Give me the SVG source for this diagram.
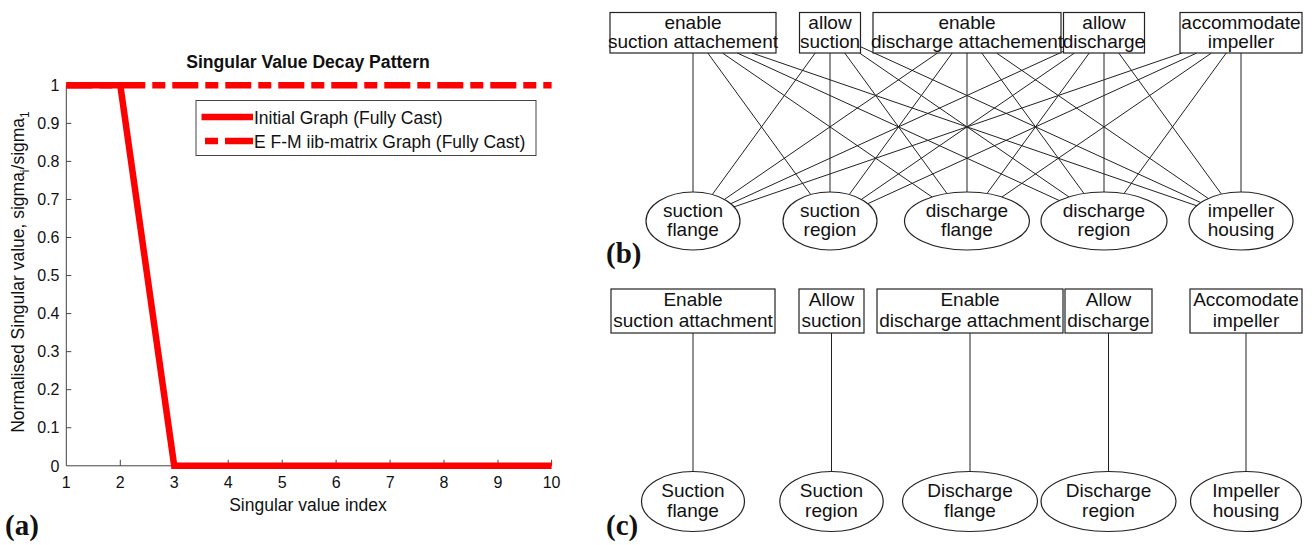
<svg xmlns="http://www.w3.org/2000/svg" width="1314" height="545" viewBox="0 0 1314 545">
<style>
text{font-family:"Liberation Sans",Arial,sans-serif;fill:#111}
.ax{stroke:#444;stroke-width:1;fill:none}
.tl{font-size:16px;text-anchor:end}
.tx{font-size:16px;text-anchor:middle}
.lb{font-size:17.5px}
.ttl{font-size:17.6px;font-weight:bold;text-anchor:middle}
.red{stroke:#ff0000;stroke-width:6.5;fill:none}
.dash{stroke-dasharray:26 7 13 7}
.box{fill:#fff;stroke:#222;stroke-width:1.2}
.nt{font-size:19px;text-anchor:middle}
.edge{stroke:#222;stroke-width:1;fill:none}
.pn{font-family:"Liberation Serif","Times New Roman",serif;font-weight:bold;font-size:29px}
</style>

<g id="plot-a">
  <text class="ttl" x="308" y="68">Singular Value Decay Pattern</text>
  <path class="ax" d="M66.3,85.3 V465.8 H551.6"/>
  <path class="ax" d="M66.3,123.35h5M66.3,161.4h5M66.3,199.45h5M66.3,237.5h5M66.3,275.55h5M66.3,313.6h5M66.3,351.65h5M66.3,389.7h5M66.3,427.75h5M66.3,85.3h5"/>
  <path class="ax" d="M120.3,465.8v-6M174.2,465.8v-6M228.2,465.8v-6M282.2,465.8v-6M336.1,465.8v-6M390.1,465.8v-6M444,465.8v-6M498,465.8v-6M551.6,465.8v-6"/>
  <g class="tl">
    <text x="59.5" y="91">1</text>
    <text x="59.5" y="129">0.9</text>
    <text x="59.5" y="167.1">0.8</text>
    <text x="59.5" y="205.1">0.7</text>
    <text x="59.5" y="243.2">0.6</text>
    <text x="59.5" y="281.2">0.5</text>
    <text x="59.5" y="319.3">0.4</text>
    <text x="59.5" y="357.3">0.3</text>
    <text x="59.5" y="395.4">0.2</text>
    <text x="59.5" y="433.4">0.1</text>
    <text x="59.5" y="471.5">0</text>
  </g>
  <g class="tx">
    <text x="66.3" y="487.5">1</text>
    <text x="120.3" y="487.5">2</text>
    <text x="174.2" y="487.5">3</text>
    <text x="228.2" y="487.5">4</text>
    <text x="282.2" y="487.5">5</text>
    <text x="336.1" y="487.5">6</text>
    <text x="390.1" y="487.5">7</text>
    <text x="444" y="487.5">8</text>
    <text x="498" y="487.5">9</text>
    <text x="551.6" y="487.5">10</text>
  </g>
  <text class="lb" x="308" y="511" text-anchor="middle">Singular value index</text>
  <text class="lb" transform="translate(24,272) rotate(-90)" text-anchor="middle">Normalised Singular value, sigma<tspan font-size="12" dy="4.5">i</tspan><tspan dy="-4.5">/sigma</tspan><tspan font-size="12" dy="4.5">1</tspan></text>
  <polyline class="red" points="66.3,85.3 120.3,85.3 174.2,465.8 551.6,465.8"/>
  <line class="red dash" x1="66.3" y1="85.3" x2="551.6" y2="85.3"/>
  <rect x="196" y="100.5" width="340" height="55" fill="#fff" stroke="#444" stroke-width="1"/>
  <line class="red" x1="201.5" y1="117" x2="253" y2="117"/>
  <text class="lb" x="254" y="123.5">Initial Graph (Fully Cast)</text>
  <line class="red" x1="205" y1="141" x2="253" y2="141" style="stroke-dasharray:13 7 28 0"/>
  <text class="lb" x="254" y="147.5">E F-M iib-matrix Graph (Fully Cast)</text>
  <text class="pn" x="5" y="535">(a)</text>
</g>

<g id="connectors-b">
  <line class="edge" x1="693" y1="53" x2="693" y2="192"/>
  <line class="edge" x1="707.74" y1="53" x2="810.75" y2="194.55"/>
  <line class="edge" x1="722.47" y1="53" x2="932.02" y2="196.97"/>
  <line class="edge" x1="737.21" y1="53" x2="1059.34" y2="200.55"/>
  <line class="edge" x1="751.95" y1="53" x2="1196.73" y2="205.79"/>
  <line class="edge" x1="815.26" y1="53" x2="712.25" y2="194.55"/>
  <line class="edge" x1="830" y1="53" x2="830" y2="192"/>
  <line class="edge" x1="844.74" y1="53" x2="947" y2="193.52"/>
  <line class="edge" x1="859.47" y1="53" x2="1068.93" y2="196.91"/>
  <line class="edge" x1="860.5" y1="46.72" x2="1200.82" y2="202.59"/>
  <line class="edge" x1="937.53" y1="53" x2="724.4" y2="199.42"/>
  <line class="edge" x1="952.26" y1="53" x2="849.25" y2="194.55"/>
  <line class="edge" x1="967" y1="53" x2="967" y2="192"/>
  <line class="edge" x1="981.74" y1="53" x2="1083.99" y2="193.5"/>
  <line class="edge" x1="996.47" y1="53" x2="1208.23" y2="198.48"/>
  <line class="edge" x1="1063.5" y1="51.3" x2="730.74" y2="203.71"/>
  <line class="edge" x1="1074.53" y1="53" x2="861.4" y2="199.42"/>
  <line class="edge" x1="1089.26" y1="53" x2="987" y2="193.52"/>
  <line class="edge" x1="1104" y1="53" x2="1104" y2="192"/>
  <line class="edge" x1="1118.74" y1="53" x2="1221.44" y2="194.13"/>
  <line class="edge" x1="1182.05" y1="53" x2="734.06" y2="206.89"/>
  <line class="edge" x1="1196.79" y1="53" x2="867.74" y2="203.71"/>
  <line class="edge" x1="1211.53" y1="53" x2="1001.98" y2="196.97"/>
  <line class="edge" x1="1226.26" y1="53" x2="1124.01" y2="193.5"/>
  <line class="edge" x1="1241" y1="53" x2="1241" y2="192"/>
</g>

<g id="b-f1"><rect class="box" x="610" y="12.5" width="166" height="40.5"/><text class="nt" x="693" y="28.5">enable</text><text class="nt" x="693" y="48">suction attachement</text></g>
<g id="b-f2"><rect class="box" x="799.5" y="12.5" width="61" height="40.5"/><text class="nt" x="830" y="28.5">allow</text><text class="nt" x="830" y="48">suction</text></g>
<g id="b-f3"><rect class="box" x="873" y="12.5" width="188" height="40.5"/><text class="nt" x="967" y="28.5">enable</text><text class="nt" x="967" y="48">discharge attachement</text></g>
<g id="b-f4"><rect class="box" x="1063.5" y="12.5" width="81" height="40.5"/><text class="nt" x="1104" y="28.5">allow</text><text class="nt" x="1104" y="48">discharge</text></g>
<g id="b-f5"><rect class="box" x="1180" y="12.5" width="122" height="40.5"/><text class="nt" x="1241" y="28.5">accommodate</text><text class="nt" x="1241" y="48">impeller</text></g>
<g id="b-m1"><ellipse class="box" cx="693" cy="221" rx="47" ry="29"/><text class="nt" x="693" y="217">suction</text><text class="nt" x="693" y="236">flange</text></g>
<g id="b-m2"><ellipse class="box" cx="830" cy="221" rx="47" ry="29"/><text class="nt" x="830" y="217">suction</text><text class="nt" x="830" y="236">region</text></g>
<g id="b-m3"><ellipse class="box" cx="967" cy="221" rx="62.5" ry="29"/><text class="nt" x="967" y="217">discharge</text><text class="nt" x="967" y="236">flange</text></g>
<g id="b-m4"><ellipse class="box" cx="1104" cy="221" rx="63" ry="29"/><text class="nt" x="1104" y="217">discharge</text><text class="nt" x="1104" y="236">region</text></g>
<g id="b-m5"><ellipse class="box" cx="1241" cy="221" rx="52" ry="29"/><text class="nt" x="1241" y="217">impeller</text><text class="nt" x="1241" y="236">housing</text></g>
<text class="pn" x="606" y="263">(b)</text>

<g id="connectors-c">
  <line class="edge" x1="693" y1="333" x2="693" y2="471.5"/>
  <line class="edge" x1="831.5" y1="333" x2="831.5" y2="471.5"/>
  <line class="edge" x1="970" y1="333" x2="970" y2="471.5"/>
  <line class="edge" x1="1108.5" y1="333" x2="1108.5" y2="471.5"/>
  <line class="edge" x1="1246" y1="333" x2="1246" y2="471.5"/>
</g>

<g id="c-f1"><rect class="box" x="611" y="289" width="164" height="44"/><text class="nt" x="693" y="306">Enable</text><text class="nt" x="693" y="326.5">suction attachment</text></g>
<g id="c-f2"><rect class="box" x="799" y="289" width="65" height="44"/><text class="nt" x="831.5" y="306">Allow</text><text class="nt" x="831.5" y="326.5">suction</text></g>
<g id="c-f3"><rect class="box" x="877" y="289" width="186" height="44"/><text class="nt" x="970" y="306">Enable</text><text class="nt" x="970" y="326.5">discharge attachment</text></g>
<g id="c-f4"><rect class="box" x="1065" y="289" width="87" height="44"/><text class="nt" x="1108.5" y="306">Allow</text><text class="nt" x="1108.5" y="326.5">discharge</text></g>
<g id="c-f5"><rect class="box" x="1190" y="289" width="112" height="44"/><text class="nt" x="1246" y="306">Accomodate</text><text class="nt" x="1246" y="326.5">impeller</text></g>
<g id="c-m1"><ellipse class="box" cx="693" cy="501.5" rx="51.5" ry="30"/><text class="nt" x="693" y="496.5">Suction</text><text class="nt" x="693" y="516.5">flange</text></g>
<g id="c-m2"><ellipse class="box" cx="831.5" cy="501.5" rx="51.7" ry="30"/><text class="nt" x="831.5" y="496.5">Suction</text><text class="nt" x="831.5" y="516.5">region</text></g>
<g id="c-m3"><ellipse class="box" cx="970" cy="501.5" rx="67.5" ry="30"/><text class="nt" x="970" y="496.5">Discharge</text><text class="nt" x="970" y="516.5">flange</text></g>
<g id="c-m4"><ellipse class="box" cx="1108.5" cy="501.5" rx="67.5" ry="30"/><text class="nt" x="1108.5" y="496.5">Discharge</text><text class="nt" x="1108.5" y="516.5">region</text></g>
<g id="c-m5"><ellipse class="box" cx="1246" cy="501.5" rx="55.5" ry="30"/><text class="nt" x="1246" y="496.5">Impeller</text><text class="nt" x="1246" y="516.5">housing</text></g>
<text class="pn" x="606" y="535">(c)</text>
</svg>
